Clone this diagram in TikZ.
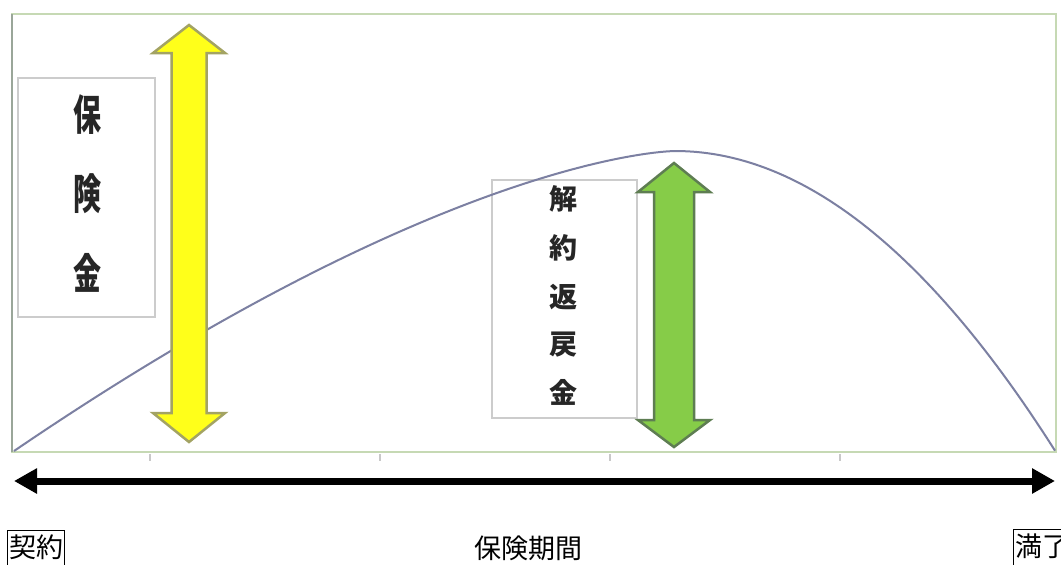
\documentclass[tikz,border=0pt]{standalone}
\usepackage{fontspec}
\newfontfamily\jp{Noto Sans CJK JP}
\usetikzlibrary{arrows.meta}
\definecolor{framegreen}{HTML}{C6D9B4}
\definecolor{framegray}{HTML}{9AA699}
\definecolor{tickgray}{HTML}{C8C8C8}
\definecolor{curvecol}{HTML}{7C80A2}
\definecolor{boxgray}{HTML}{CCCCCC}
\definecolor{yelfill}{HTML}{FFFF1A}
\definecolor{yeledge}{HTML}{A3A363}
\definecolor{grnfill}{HTML}{86CC48}
\definecolor{grnedge}{HTML}{5E7D52}
\tikzset{
  tbox/.style={draw=boxgray, line width=1.6pt, fill=none},
  vch/.style={font=\jp\bfseries\fontsize{28}{28}\selectfont, inner sep=0pt, text=black!85},
  lbl/.style={font=\jp\fontsize{27}{27}\selectfont, inner sep=1.5pt},
  lblbox/.style={lbl, draw=black, line width=1.4pt, minimum height=40pt, anchor=north west, text depth=10pt},
  curvestyle/.style={draw=curvecol, line width=2pt, line join=round},
}
\begin{document}
\begin{tikzpicture}[x=1pt,y=-1pt]
\useasboundingbox (0,0) rectangle (1061,565);
\fill[white] (0,0) rectangle (1061,565);
% plot frame
\draw[framegreen, line width=2.5pt] (12,14) rectangle (1056,452);
\draw[framegray, line width=2.5pt] (12,14) -- (12,452);
\foreach \x in {150,380,610,840} \draw[tickgray, line width=1.2pt] (\x,454) -- (\x,461);
% text boxes
\node[tbox, minimum width=137pt, minimum height=239pt] (hokenbox) at (86.5,197.5) {};
\node[vch] (h1) at (87,115) {\scalebox{1}[1.5]{保}};
\node[vch] (h2) at (87,194) {\scalebox{1}[1.5]{険}};
\node[vch] (h3) at (87,273) {\scalebox{1}[1.5]{金}};
\node[tbox, minimum width=145pt, minimum height=238pt] (kaiyakubox) at (564.5,299) {};
\node[vch] (k1) at (563,199) {解};
\node[vch] (k2) at (563,248) {約};
\node[vch] (k3) at (563,297) {返};
\node[vch] (k4) at (563,345) {戻};
\node[vch] (k5) at (563,392) {金};
% curve
\draw[curvestyle]
  plot[domain=14:675, samples=90] (\x, {151+0.01765*(675-\x)*sqrt(675-\x)})
  -- plot[domain=675:1055, samples=60] (\x, {151+0.00207*(\x-675)*(\x-675)});
% yellow double arrow
\draw[fill=yelfill, draw=yeledge, line width=2.5pt, line join=miter]
  (189,25) -- (225,53) -- (206.5,53) -- (206.5,413) -- (225,413) -- (189,442)
  -- (153,413) -- (171.5,413) -- (171.5,53) -- (153,53) -- cycle;
% green double arrow
\draw[fill=grnfill, draw=grnedge, line width=2.5pt, line join=miter]
  (674,163) -- (710,192) -- (694,192) -- (694,420) -- (710,420) -- (674,447)
  -- (638,420) -- (654,420) -- (654,192) -- (638,192) -- cycle;
% period arrow
\coordinate (pl) at (14,481);
\coordinate (pr) at (1055,481);
\draw[line width=7pt, {Triangle[length=23pt,width=24pt]}-{Triangle[length=23pt,width=24pt]}] (pl) -- (pr);
% bottom labels
\node[lblbox] (keiyaku) at (7,530) {契約};
\node[lbl] (kikan) at (528,548) {保険期間};
\node[lblbox] (manryo) at (1013,529) {満了};
\end{tikzpicture}
\end{document}
